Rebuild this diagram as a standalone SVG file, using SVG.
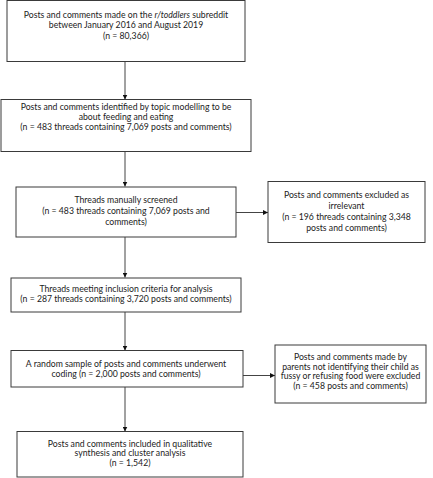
<svg xmlns="http://www.w3.org/2000/svg" width="433" height="478" viewBox="0 0 433 478">
<defs>
<style>
.box{fill:#fff;stroke:#3a3a3a;stroke-width:1}
.t{font-family:Lato,"Liberation Sans",Arial,sans-serif;font-size:8.7px;fill:#222;text-anchor:middle}
.c{stroke:#444;stroke-width:1;fill:none;marker-end:url(#ah)}
</style>
<marker id="ah" viewBox="0 0 6 6" refX="6" refY="3" markerWidth="5" markerHeight="5" orient="auto" markerUnits="userSpaceOnUse">
<path d="M0,0 L6,3 L0,6 z" fill="#111"/>
</marker>
</defs>
<rect width="433" height="478" fill="#fff"/>
<g id="connectors">
<line class="c" x1="125" y1="61.5" x2="125" y2="99.5"/>
<line class="c" x1="125" y1="151.5" x2="125" y2="186.5"/>
<line class="c" x1="236" y1="212.5" x2="268" y2="212.5"/>
<line class="c" x1="125" y1="237" x2="125" y2="277.5"/>
<line class="c" x1="125" y1="312" x2="125" y2="350.5"/>
<line class="c" x1="243" y1="375.5" x2="275" y2="375.5"/>
<line class="c" x1="125" y1="387" x2="125" y2="431.5"/>
</g>
<g id="n1">
<rect class="box" x="7" y="0.5" width="238" height="61"/>
<text class="t" x="126" y="17.5">Posts and comments made on the <tspan font-style="italic">r/toddlers</tspan> subreddit</text>
<text class="t" x="126" y="28">between January 2016 and August 2019</text>
<text class="t" x="126" y="38.5">(n = 80,366)</text>
</g>
<g id="n2">
<rect class="box" x="1" y="99.5" width="250" height="52"/>
<text class="t" x="126" y="110">Posts and comments identified by topic modelling to be</text>
<text class="t" x="126" y="120">about feeding and eating</text>
<text class="t" x="126" y="130">(n = 483 threads containing 7,069 posts and comments)</text>
</g>
<g id="n3">
<rect class="box" x="16" y="187" width="220" height="50"/>
<text class="t" x="126" y="203">Threads manually screened</text>
<text class="t" x="126" y="214">(n = 483 threads containing 7,069 posts and</text>
<text class="t" x="126" y="225">comments)</text>
</g>
<g id="n4">
<rect class="box" x="268" y="181.5" width="157" height="61"/>
<text class="t" x="346.5" y="197.5">Posts and comments excluded as</text>
<text class="t" x="346.5" y="208.5">irrelevant</text>
<text class="t" x="346.5" y="219.5">(n = 196 threads containing 3,348</text>
<text class="t" x="346.5" y="230.5">posts and comments)</text>
</g>
<g id="n5">
<rect class="box" x="11" y="278" width="230" height="34"/>
<text class="t" x="126" y="292">Threads meeting inclusion criteria for analysis</text>
<text class="t" x="126" y="302">(n = 287 threads containing 3,720 posts and comments)</text>
</g>
<g id="n6">
<rect class="box" x="11" y="350.5" width="232" height="36.5"/>
<text class="t" x="126" y="366.5">A random sample of posts and comments underwent</text>
<text class="t" x="126" y="377">coding (n = 2,000 posts and comments)</text>
</g>
<g id="n7">
<rect class="box" x="275" y="345" width="151" height="58"/>
<text class="t" x="350.5" y="360">Posts and comments made by</text>
<text class="t" x="350.5" y="369.5">parents not identifying their child as</text>
<text class="t" x="350.5" y="379">fussy or refusing food were excluded</text>
<text class="t" x="350.5" y="388.5">(n = 458 posts and comments)</text>
</g>
<g id="n8">
<rect class="box" x="17" y="431.5" width="226" height="45.5"/>
<text class="t" x="130" y="446.5">Posts and comments included in qualitative</text>
<text class="t" x="130" y="456">synthesis and cluster analysis</text>
<text class="t" x="130" y="465.5">(n = 1,542)</text>
</g>
</svg>
